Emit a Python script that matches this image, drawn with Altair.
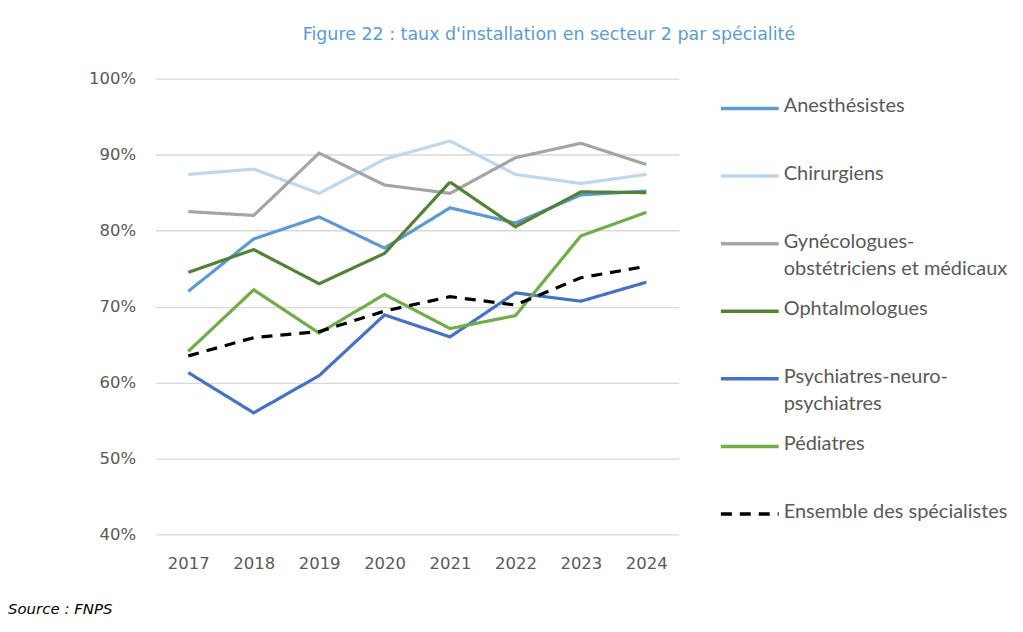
import altair as alt
import pandas as pd

years = ["2017", "2018", "2019", "2020", "2021", "2022", "2023", "2024"]
series = ["Anesthésistes", "Chirurgiens", "Gynécologues-obstétriciens et médicaux",
          "Ophtalmologues", "Psychiatres-neuro-psychiatres", "Pédiatres",
          "Ensemble des spécialistes"]
legend_labels = ["Anesthésistes", "Chirurgiens", "Gynécologues-\nobstétriciens et médicaux",
                 "Ophtalmologues", "Psychiatres-neuro-\npsychiatres", "Pédiatres",
                 "Ensemble des spécialistes"]
anesthesistes = [72.0, 78.9, 81.8, 77.7, 83.0, 81.0, 84.7, 85.2]
chirurgiens = [87.4, 88.1, 84.9, 89.4, 91.8, 87.4, 86.2, 87.4]
gyneco = [82.5, 82.0, 90.2, 86.0, 84.9, 89.6, 91.5, 88.7]
ophtalmo = [74.5, 77.5, 73.0, 77.0, 86.4, 80.5, 85.1, 85.0]
psychiatres = [61.3, 56.0, 60.9, 68.9, 66.0, 71.8, 70.7, 73.2]
pediatres = [64.1, 72.2, 66.5, 71.6, 67.1, 68.8, 79.3, 82.4]
ensemble = [63.5, 65.9, 66.7, 69.4, 71.3, 70.2, 73.8, 75.3]
colors = ["#5B9BD5", "#BDD7EE", "#A5A5A5", "#548235", "#4472C4", "#70AD47", "#000000"]
dashes = [[1, 0]] * 6 + [[11, 8]]

values = [anesthesistes, chirurgiens, gyneco, ophtalmo, psychiatres, pediatres, ensemble]
rows = []
for s, vals in zip(series, values):
    for y, v in zip(years, vals):
        rows.append({"series": s, "year": y, "value": v / 100})
df = pd.DataFrame(rows)
leg = pd.DataFrame({"series": series, "label": legend_labels, "idx": list(range(len(series)))})

AXFONT = "DejaVu Sans"
LEGFONT = "Lato"
GREY = "#595959"

color_scale = alt.Scale(domain=series, range=colors)
dash_scale = alt.Scale(domain=series, range=dashes)

lines = alt.Chart(df).mark_line(strokeWidth=3.2).encode(
    x=alt.X("year:O", scale=alt.Scale(type="point", padding=0.5),
            axis=alt.Axis(title=None, labelAngle=0, domain=False, ticks=False,
                          labelFont=AXFONT, labelFontSize=16.5, labelColor=GREY, labelPadding=21)),
    y=alt.Y("value:Q", scale=alt.Scale(domain=[0.4, 1.0]),
            axis=alt.Axis(title=None, format=".0%", values=[0.4, 0.5, 0.6, 0.7, 0.8, 0.9, 1.0],
                          domain=False, ticks=False, gridColor="#D9D9D9", gridWidth=1.3,
                          labelFont=AXFONT, labelFontSize=16.5, labelColor=GREY, labelPadding=20)),
    color=alt.Color("series:N", scale=color_scale, legend=None),
    strokeDash=alt.StrokeDash("series:N", scale=dash_scale, legend=None),
    order=alt.Order("year:O"),
)

source = alt.Chart(pd.DataFrame({"t": ["Source : FNPS"]})).mark_text(
    align="left", baseline="middle", font="DejaVu Sans", fontStyle="italic",
    fontSize=15, color="#000000"
).encode(text="t:N", x=alt.value(-148), y=alt.value(532))

main = alt.layer(lines, source).properties(width=525, height=457)

leg_y = alt.Y("idx:Q", scale=alt.Scale(domain=[-0.44, 6.30], reverse=True, nice=False, zero=False),
              axis=None)
leg_rules = alt.Chart(leg).mark_rule(strokeWidth=3.5).encode(
    x=alt.value(0), x2=alt.value(58), y=leg_y,
    color=alt.Color("series:N", scale=color_scale, legend=None),
    strokeDash=alt.StrokeDash("series:N", scale=dash_scale, legend=None),
)
leg_text = alt.Chart(leg).mark_text(
    align="left", baseline="top", dy=-12, lineBreak="\n", lineHeight=27,
    font=LEGFONT, fontSize=20, color=GREY
).encode(x=alt.value(63), y=leg_y, text="label:N")
legend = alt.layer(leg_rules, leg_text).properties(width=290, height=457)

chart = alt.hconcat(main, legend, spacing=40).properties(
    title=alt.TitleParams("Figure 22 : taux d'installation en secteur 2 par spécialité",
                          font="DejaVu Sans", fontSize=17.5, fontWeight="normal",
                          color="#5B9BD5", anchor="middle", dx=40, offset=27),
    padding={"left": 0, "top": 17, "right": 5, "bottom": 5},
).configure_view(stroke=None)

chart.save("out.html", embed_options={"renderer": "svg", "actions": False})
